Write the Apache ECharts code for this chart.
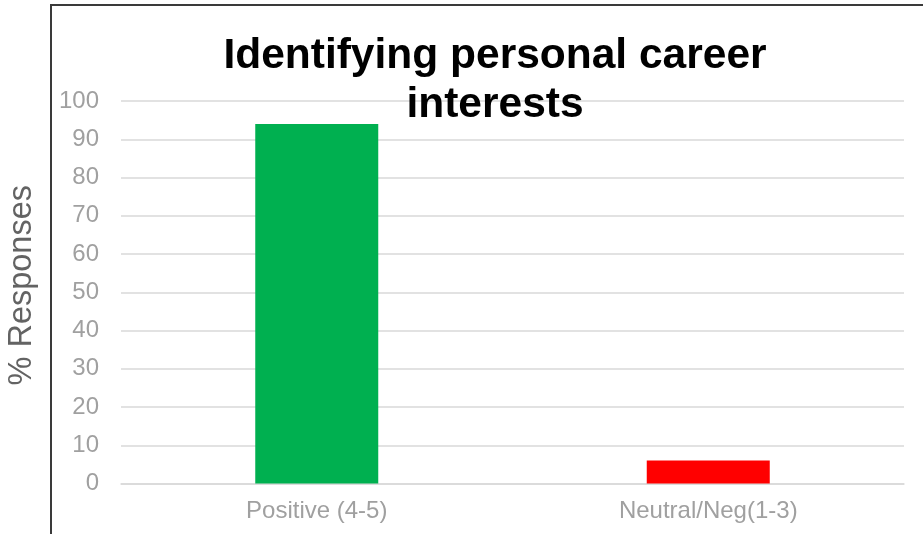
<!DOCTYPE html>
<html>
<head>
<meta charset="utf-8">
<title>Identifying personal career interests</title>
<script src="https://cdn.jsdelivr.net/npm/echarts@6/dist/echarts.min.js"></script>
<style>
  html, body { margin: 0; padding: 0; background: #ffffff; }
  #chart { width: 923px; height: 534px; }
</style>
</head>
<body>
<div id="chart"></div>
<script>
// Survey answers grouped by rating band
const categories = ['Positive (4-5)', 'Neutral/Neg(1-3)'];
const responsePercent = [94, 6];
const barColors = ['#00B050', '#FF0000'];
const yTicks = { min: 0, max: 100, step: 10 };

const chart = echarts.init(document.getElementById('chart'), null, { renderer: 'canvas' });

const font = 'Liberation Sans, Arial, Helvetica, sans-serif';

chart.setOption({
  animation: false,
  backgroundColor: '#ffffff',
  title: {
    text: 'Identifying personal career\ninterests',
    left: 490,
    top: 27,
    textAlign: 'center',
    textStyle: {
      fontFamily: font,
      fontSize: 42.5,
      fontWeight: 'bold',
      color: '#000000',
      lineHeight: 49
    }
  },
  grid: {
    left: 121,
    right: 19,
    top: 101,
    bottom: 50.5,
    containLabel: false,
    outerBoundsMode: 'none'
  },
  xAxis: {
    type: 'category',
    data: categories,
    axisLine: { show: true, lineStyle: { color: '#d9d9d9', width: 1.5 } },
    axisTick: { show: false },
    axisLabel: {
      color: '#a0a0a0',
      fontFamily: font,
      fontSize: 24,
      margin: 16
    }
  },
  yAxis: {
    type: 'value',
    min: yTicks.min,
    max: yTicks.max,
    interval: yTicks.step,
    name: '% Responses',
    nameLocation: 'middle',
    nameRotate: 90,
    nameGap: 82,
    nameTextStyle: {
      fontFamily: font,
      fontSize: 32.5,
      color: '#636363',
      padding: [0, 0, 0, 14]
    },
    axisLine: { show: false },
    axisTick: { show: false },
    axisLabel: {
      color: '#a0a0a0',
      fontFamily: font,
      fontSize: 24,
      margin: 22
    },
    splitLine: { show: true, lineStyle: { color: '#d9d9d9', width: 1.5 } }
  },
  series: [{
    type: 'bar',
    barWidth: 123,
    data: responsePercent.map((v, i) => ({ value: v, itemStyle: { color: barColors[i] } }))
  }],
  graphic: [{
    // chart frame: only its top and left edges fall inside the view
    type: 'rect',
    silent: true,
    z: 100,
    shape: { x: 51, y: 5, width: 1000, height: 700 },
    style: { fill: 'none', stroke: '#3a3a3a', lineWidth: 2 }
  }]
});
</script>
</body>
</html>
